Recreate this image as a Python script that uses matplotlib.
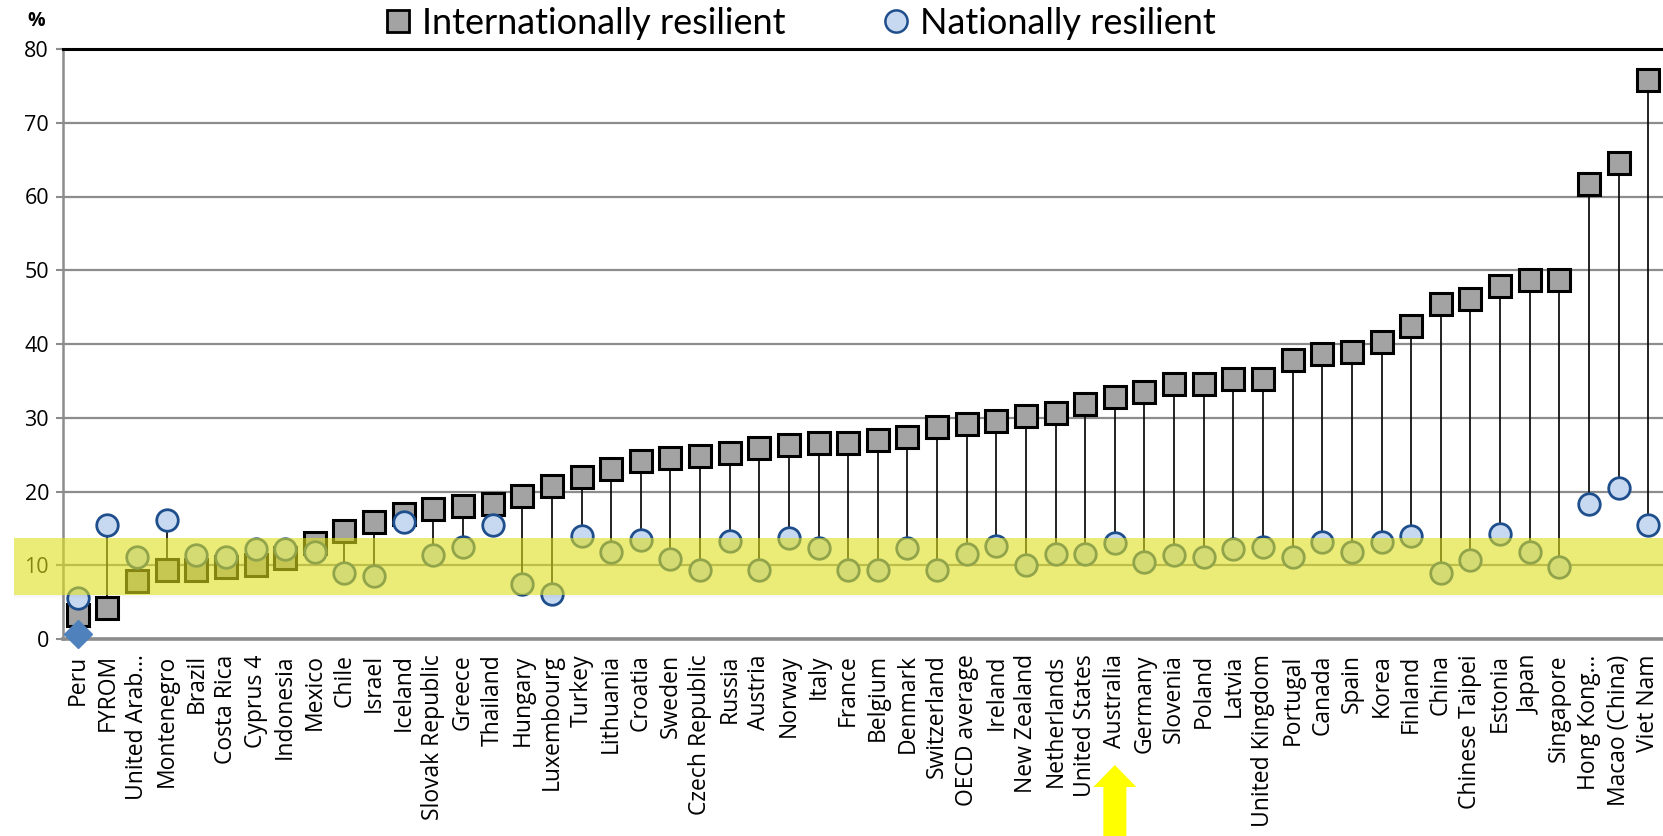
import matplotlib
matplotlib.use("Agg")
import matplotlib.pyplot as plt
import matplotlib.transforms as mtransforms
from matplotlib.patches import FancyArrow, Rectangle
from matplotlib.lines import Line2D

countries = ["Peru", "FYROM", "United Arab…", "Montenegro", "Brazil", "Costa Rica",
             "Cyprus 4", "Indonesia", "Mexico", "Chile", "Israel", "Iceland",
             "Slovak Republic", "Greece", "Thailand", "Hungary", "Luxembourg", "Turkey",
             "Lithuania", "Croatia", "Sweden", "Czech Republic", "Russia", "Austria",
             "Norway", "Italy", "France", "Belgium", "Denmark", "Switzerland",
             "OECD average", "Ireland", "New Zealand", "Netherlands", "United States",
             "Australia", "Germany", "Slovenia", "Poland", "Latvia", "United Kingdom",
             "Portugal", "Canada", "Spain", "Korea", "Finland", "China", "Chinese Taipei",
             "Estonia", "Japan", "Singapore", "Hong Kong…", "Macao (China)", "Viet Nam"]

internationally = [3.2, 4.2, 7.9, 9.3, 9.4, 9.7, 10.0, 11.0, 13.0, 14.7, 15.8, 17.0,
                   17.6, 18.0, 18.3, 19.4, 20.8, 22.0, 23.0, 24.1, 24.5, 24.8, 25.2, 25.9,
                   26.3, 26.6, 26.6, 27.0, 27.4, 28.8, 29.2, 29.5, 30.2, 30.6, 31.8, 32.8,
                   33.5, 34.6, 34.6, 35.3, 35.3, 37.8, 38.6, 38.9, 40.3, 42.5, 45.4, 46.1,
                   47.9, 48.7, 48.7, 61.7, 64.6, 75.8]

nationally = [5.6, 15.4, 11.1, 16.2, 11.4, 11.1, 12.2, 12.2, 11.8, 8.9, 8.5, 15.8,
              11.4, 12.5, 15.4, 7.5, 6.1, 14.0, 11.8, 13.4, 10.8, 9.4, 13.3, 9.4,
              13.7, 12.3, 9.4, 9.4, 12.3, 9.4, 11.5, 12.6, 10.0, 11.5, 11.5, 13.0,
              10.4, 11.4, 11.1, 12.2, 12.5, 11.1, 13.2, 11.8, 13.2, 14.0, 8.9, 10.7,
              14.3, 11.8, 9.7, 18.3, 20.5, 15.4]

extra_countries = ["Peru"]
extra_values = [0.7]

band_range = (5.9, 13.7)
highlight_country = "Australia"

y_ticks = [0, 10, 20, 30, 40, 50, 60, 70, 80]

W, H, DPI = 1663, 836, 100
fig = plt.figure(figsize=(W / DPI, H / DPI), dpi=DPI)
ax = fig.add_axes([63 / W, 1 - 639 / H, (W - 63) / W, (639 - 49) / H])

x = list(range(len(countries)))
grid_c = "#8c8c8c"

ax.set_xlim(-0.5, len(countries) - 0.5)
ax.set_ylim(0, 80)
ax.set_yticks(y_ticks)
ax.yaxis.grid(True, color=grid_c, linewidth=1.6, zorder=0)
ax.set_axisbelow(True)

# drop lines
ax.vlines(x, [min(a, b) for a, b in zip(internationally, nationally)],
          [max(a, b) for a, b in zip(internationally, nationally)],
          colors="#111111", linewidth=1.3, zorder=2)

ax.plot(x, internationally, linestyle="none", marker="s", markersize=15.5,
        markerfacecolor="#a3a3a3", markeredgecolor="#000000", markeredgewidth=2.2, zorder=3)
ax.plot(x, nationally, linestyle="none", marker="o", markersize=15.5,
        markerfacecolor="#c6d9f1", markeredgecolor="#1f4e8c", markeredgewidth=2.0, zorder=4)
ax.plot([countries.index(c) for c in extra_countries], extra_values, linestyle="none",
        marker="D", markersize=14.5, markerfacecolor="#4f81bd", markeredgecolor="#4f81bd",
        zorder=5, clip_on=False)

# spines
ax.spines["right"].set_visible(False)
ax.spines["top"].set_color("#000000")
ax.spines["top"].set_linewidth(2.2)
ax.spines["left"].set_color(grid_c)
ax.spines["left"].set_linewidth(1.8)
ax.spines["bottom"].set_color(grid_c)
ax.spines["bottom"].set_linewidth(2.6)

ax.set_xticks(x)
ax.set_xticklabels(countries, rotation=90, fontsize=16.5, family="Open Sans")
ax.tick_params(axis="x", length=0, pad=11)
ax.tick_params(axis="y", length=5, width=1.5, color=grid_c, direction="out",
               labelsize=15.5, pad=5)
for t in ax.get_yticklabels():
    t.set_family("Open Sans")

fig.text(36 / W, 1 - 21 / H, "%", fontsize=14, fontweight="bold", family="Open Sans",
         ha="center", va="center")

# highlight band (drawn over markers and labels)
band_left = (14 - 63) / (W - 63)
btr = mtransforms.blended_transform_factory(ax.transAxes, ax.transData)
band = Rectangle((band_left, band_range[0]), 1 - band_left, band_range[1] - band_range[0],
                 transform=btr, facecolor="#dede1e", alpha=0.6, edgecolor="none",
                 zorder=10, clip_on=False)
ax.add_patch(band)
for k in range(4):
    sh = Rectangle((band_left, band_range[0] - 0.12 * (k + 1)), 1 - band_left, 0.12,
                   transform=btr, facecolor="#000000", alpha=0.035 * (4 - k) / 4,
                   edgecolor="none", zorder=10, clip_on=False)
    ax.add_patch(sh)

# legend
handles = [Line2D([], [], linestyle="none", marker="s", markersize=16,
                  markerfacecolor="#a3a3a3", markeredgecolor="#000000", markeredgewidth=2.0),
           Line2D([], [], linestyle="none", marker="o", markersize=16,
                  markerfacecolor="#c6d9f1", markeredgecolor="#1f4e8c", markeredgewidth=1.8)]
leg = ax.legend(handles, ["Internationally resilient", "Nationally resilient"], ncol=2,
                loc="center", bbox_to_anchor=(800 / W, 1 - 23 / H),
                bbox_transform=fig.transFigure, frameon=False, handlelength=0.75,
                handletextpad=0.28, columnspacing=2.7,
                prop={"family": "Lato", "size": 26})

# highlight arrow under Australia
ai = countries.index(highlight_country)
arrow_tr = mtransforms.blended_transform_factory(ax.transData, fig.transFigure)
arr = FancyArrow(ai, -0.01, 0, (836 - 765) / H + 0.01, width=23 / 29.63,
                 head_width=43 / 29.63, head_length=22 / H, length_includes_head=True,
                 transform=arrow_tr, facecolor="#ffff00", edgecolor="none", clip_on=False,
                 zorder=20)
fig.add_artist(arr)

fig.savefig("out.png", dpi=DPI)
